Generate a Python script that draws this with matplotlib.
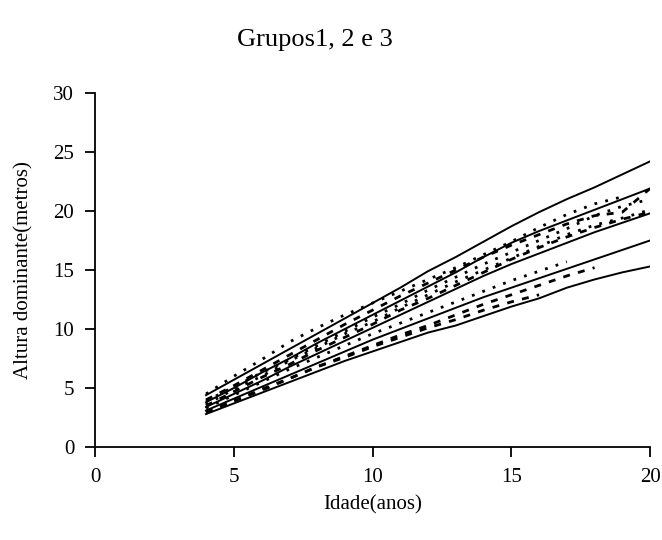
import matplotlib.pyplot as plt

plt.rcParams['font.family'] = ['Liberation Serif', 'DejaVu Serif']

# idade (anos)
ages = list(range(4, 21))

# curvas ajustadas (linhas cheias)
curve_a = [4.4, 5.7, 7.0, 8.3, 9.6, 10.9, 12.2, 13.5, 14.9, 16.1, 17.4, 18.7, 19.9, 21.0, 22.0, 23.1, 24.2]
curve_b = [3.8, 5.0, 6.3, 7.5, 8.8, 10.0, 11.2, 12.4, 13.6, 14.8, 16.1, 17.3, 18.3, 19.2, 20.1, 21.0, 21.9]
curve_c = [3.4, 4.5, 5.6, 6.8, 7.9, 9.0, 10.1, 11.2, 12.3, 13.4, 14.5, 15.5, 16.4, 17.3, 18.2, 19.0, 19.8]
curve_d = [3.1, 4.1, 5.1, 6.1, 7.1, 8.1, 9.1, 10.0, 10.9, 11.8, 12.7, 13.5, 14.3, 15.1, 15.9, 16.7, 17.5]
curve_e = [2.8, 3.7, 4.6, 5.5, 6.4, 7.3, 8.1, 8.9, 9.7, 10.3, 11.1, 11.9, 12.6, 13.5, 14.2, 14.8, 15.3]

# alturas observadas (linhas tracejadas / pontilhadas)
obs_1 = [4.5, 6.0, 7.4, 8.9, 10.1, 11.2, 12.2, 13.2, 14.2, 15.2, 16.3, 17.4, 18.6, 19.7, 20.6, 21.2]
obs_2 = [4.0, 5.2, 6.5, 7.8, 9.1, 10.4, 11.6, 12.8, 13.9, 15.0, 16.1, 17.1, 18.0, 18.9, 19.6, 19.9, 21.9]
obs_3 = [3.9, 5.1, 6.3, 7.4, 8.6, 9.8, 11.0, 12.1, 13.3, 14.4, 15.5, 16.5, 17.5, 18.5, 19.6, 20.4, 21.0]
obs_4 = [3.5, 4.7, 5.9, 7.0, 8.2, 9.3, 10.4, 11.6, 12.6, 13.7, 14.8, 15.9, 16.9, 17.8, 18.6, 19.3, 19.9]
obs_5 = [3.6, 4.9, 6.0, 7.3, 8.4, 9.6, 10.6, 11.8, 12.9, 14.0, 15.0, 16.0, 17.0, 18.0, 18.8, 19.4, 20.1]
obs_6 = [3.0, 3.9, 4.8, 5.8, 6.8, 7.7, 8.6, 9.5, 10.3, 11.2, 12.1, 12.9, 13.7, 14.5, 15.2]
obs_7 = [3.3, 4.4, 5.5, 6.6, 7.6, 8.6, 9.6, 10.5, 11.4, 12.3, 13.2, 14.1, 14.9, 15.7]
obs_8 = [2.9, 3.9, 4.9, 5.8, 6.8, 7.6, 8.5, 9.3, 10.1, 10.8, 11.6, 12.3, 12.9]

fig = plt.figure(figsize=(6.62, 5.4), dpi=100)
ax = fig.add_axes([0.1435, 0.172, 0.8385, 0.656])

for c in [curve_a, curve_b, curve_c, curve_d, curve_e]:
    ax.plot(ages, c, color='black', lw=1.4, ls='-')

dot = (0, (1, 3))
dash = (0, (2.5, 3))
obs_styles = [
    (obs_1, dot), (obs_2, dash), (obs_3, dot), (obs_4, dash),
    (obs_5, dot), (obs_6, dash), (obs_7, dot), (obs_8, dash),
]
for vals, ls in obs_styles:
    ax.plot(ages[:len(vals)], vals, color='black', lw=2.0, ls=ls)

ax.set_xlim(0, 20)
ax.set_ylim(0, 30)
ax.set_xticks([0, 5, 10, 15, 20])
ax.set_yticks([0, 5, 10, 15, 20, 25, 30])
ax.spines['top'].set_visible(False)
ax.spines['right'].set_visible(False)
for s in ['left', 'bottom']:
    ax.spines[s].set_linewidth(1.3)
ax.tick_params(direction='out', length=7, width=1.3, labelsize=15, pad=8)

ax.set_xlabel('Idade(anos)', fontsize=15, labelpad=6)
ax.set_ylabel('Altura dominante(metros)', fontsize=15, labelpad=14)
fig.text(315 / 662, 1 - 40 / 540, 'Grupos1, 2 e 3', fontsize=19, ha='center', va='center')

fig.savefig('out.png', dpi=100)
